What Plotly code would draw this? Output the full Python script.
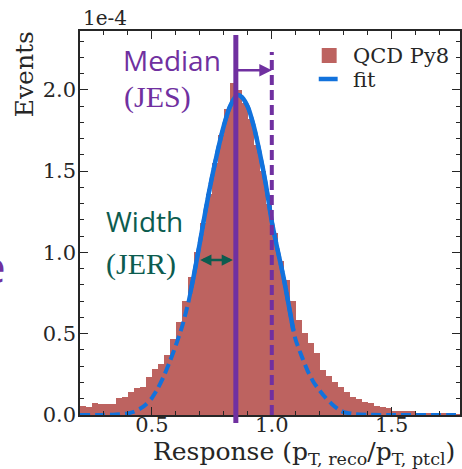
import numpy as np
import plotly.graph_objects as go

# Histogram of the jet response, bins of 0.025 starting at 0.2 (values in units of 1e-4)
bin_width = 0.025
bin_start = 0.2
qcd_py8 = [
    0.055, 0.047, 0.072, 0.070, 0.066, 0.068, 0.105, 0.108,
    0.143, 0.165, 0.170, 0.236, 0.281, 0.314, 0.369, 0.467,
    0.570, 0.700, 0.850, 1.000, 1.180, 1.360, 1.550, 1.720,
    1.880, 2.040, 2.000, 1.920, 1.820, 1.660, 1.500, 1.300,
    1.120, 0.950, 0.830, 0.700, 0.584, 0.502, 0.440, 0.380,
    0.277, 0.240, 0.205, 0.170, 0.143, 0.113, 0.096, 0.078,
    0.074, 0.055, 0.047, 0.045, 0.027, 0.027, 0.025, 0.022,
    0.015, 0.013, 0.010, 0.010, 0.008, 0.007, 0.006, 0.005,
]

# Fitted response curve (units of 1e-4)
fit_x = [0.200, 0.300, 0.350, 0.400, 0.425, 0.450, 0.475, 0.500, 0.525, 0.550,
         0.575, 0.600, 0.625, 0.650, 0.660, 0.675, 0.700, 0.725, 0.750, 0.775,
         0.800, 0.825, 0.850, 0.860, 0.875, 0.900, 0.925, 0.950, 0.975, 1.000,
         1.025, 1.050, 1.075, 1.090, 1.100, 1.125, 1.150, 1.175, 1.200, 1.225,
         1.250, 1.275, 1.300, 1.350, 1.400, 1.500, 1.785]
fit_y = [0.000, 0.000, 0.003, 0.010, 0.020, 0.038, 0.065, 0.105, 0.165, 0.240,
         0.330, 0.430, 0.540, 0.680, 0.750, 0.860, 1.060, 1.270, 1.460, 1.630,
         1.780, 1.895, 1.960, 1.968, 1.955, 1.895, 1.775, 1.610, 1.420, 1.190,
         1.010, 0.840, 0.640, 0.520, 0.460, 0.360, 0.270, 0.200, 0.150, 0.105,
         0.068, 0.038, 0.018, 0.005, 0.002, 0.000, 0.000]
fit_core = (0.660, 1.090)   # range used for the fit (solid part)

median = 0.85      # JES: median of the response
unity = 1.0        # perfect response
width_left = 0.695 # JER: half width marker start
arrow_y_jes = 2.12
arrow_y_jer = 0.953

RED = "#bd6360"
BLUE = "#1272dc"
PURPLE = "#7030a0"
GREEN = "#0c5c4f"
AXIS = "#262626"
SERIF = "DejaVu Serif"
SANS = "Open Sans"

W, H = 462, 469
L, R, T, B = 80, 0, 31, 54
pw, ph = W - L - R, H - T - B


def px(x, y):
    """pixel position -> paper coordinates"""
    return (x - L) / pw, (H - B - y) / ph


centers = [bin_start + bin_width * (i + 0.5) for i in range(len(qcd_py8))]
fx = np.array(fit_x)
fy = np.array(fit_y)
core = (fx >= fit_core[0] - 1e-9) & (fx <= fit_core[1] + 1e-9)

fig = go.Figure()
fig.add_trace(go.Bar(x=centers, y=qcd_py8, width=bin_width,
                     marker=dict(color=RED, line=dict(width=0)),
                     showlegend=False))
fig.add_trace(go.Scatter(x=fx, y=fy, mode="lines",
                         line=dict(color=BLUE, width=4, dash="10px,5px",
                                   shape="spline", smoothing=0.6),
                         showlegend=False))
fig.add_trace(go.Scatter(x=fx[core], y=fy[core], mode="lines",
                         line=dict(color=BLUE, width=4.5,
                                   shape="spline", smoothing=0.6),
                         showlegend=False))

# median (solid) and unity (dashed) vertical lines
fig.add_shape(type="line", xref="x", yref="paper", x0=median, x1=median,
              y0=px(0, 423)[1], y1=px(0, 35)[1],
              line=dict(color=PURPLE, width=5))
fig.add_shape(type="line", xref="x", yref="paper", x0=unity, x1=unity,
              y0=0, y1=px(0, 52)[1],
              line=dict(color=PURPLE, width=4, dash="10px,5px"))

# JES arrow
fig.add_annotation(x=unity, y=arrow_y_jes, ax=median, ay=arrow_y_jes,
                   xref="x", yref="y", axref="x", ayref="y", text="",
                   showarrow=True, arrowhead=2, arrowsize=1.0,
                   arrowwidth=2.5, arrowcolor=PURPLE)
# JER double arrow
fig.add_annotation(x=median - 0.012, y=arrow_y_jer, ax=width_left, ay=arrow_y_jer,
                   xref="x", yref="y", axref="x", ayref="y", text="",
                   showarrow=True, arrowhead=2, startarrowhead=2,
                   arrowside="end+start", arrowsize=0.9, startarrowsize=0.9,
                   arrowwidth=2.5, arrowcolor=GREEN)

def label(text, x, y, size, color, family, xanchor="left", yanchor="middle", angle=0):
    ax_, ay_ = px(x, y)
    fig.add_annotation(x=ax_, y=ay_, xref="paper", yref="paper", text=text,
                       showarrow=False, xanchor=xanchor, yanchor=yanchor,
                       textangle=angle,
                       font=dict(size=size, color=color, family=family))

label("Median", 121, 60, 28, PURPLE, SANS)
label("(JES)", 122, 97, 30, PURPLE, "Liberation Serif")
label("Width", 104, 221, 28, GREEN, SANS)
label("(JER)", 104, 264, 30, GREEN, "Liberation Serif")
label("e", 8, 266, 44, PURPLE, SANS, xanchor="right")

# axis texts
label("1e-4", 81, 18, 20, AXIS, SERIF)
label("Events", 25, 74, 25, AXIS, SERIF, xanchor="center", angle=-90)
label("Response (p<sub>T, reco</sub>/p<sub>T, ptcl</sub>)", 151, 471, 25, AXIS, SERIF,
      yanchor="bottom")

# legend
x0, y0 = px(323, 63)
x1, y1 = px(338, 48)
fig.add_shape(type="rect", xref="paper", yref="paper", x0=x0, x1=x1, y0=y0, y1=y1,
              fillcolor=RED, line=dict(width=0))
lx0, ly = px(320, 79)
lx1, _ = px(339, 79)
fig.add_shape(type="line", xref="paper", yref="paper", x0=lx0, x1=lx1, y0=ly, y1=ly,
              line=dict(color=BLUE, width=4.5))
label("QCD Py8", 352, 56, 21, AXIS, SERIF)
label("fit", 352, 80, 21, AXIS, SERIF)

axis_common = dict(
    showgrid=False, zeroline=False, showline=True, linecolor=AXIS, linewidth=1.5,
    mirror="ticks", ticks="inside", ticklen=8, tickwidth=1.3, tickcolor=AXIS,
    dtick=0.5, tick0=0, tickformat=".1f",
    tickfont=dict(family=SERIF, size=21, color=AXIS),
    minor=dict(ticks="inside", ticklen=4, tickwidth=1, tickcolor=AXIS, dtick=0.1),
)
fig.update_xaxes(range=[0.2, 1.785], ticklabelstandoff=-10, **axis_common)
fig.update_yaxes(range=[0, 2.362], ticklabelstandoff=-2, **axis_common)

fig.update_layout(
    width=W, height=H,
    margin=dict(l=L, r=R, t=T, b=B, pad=0),
    paper_bgcolor="white", plot_bgcolor="white",
    bargap=0, showlegend=False,
)

fig.write_html("out.html")
